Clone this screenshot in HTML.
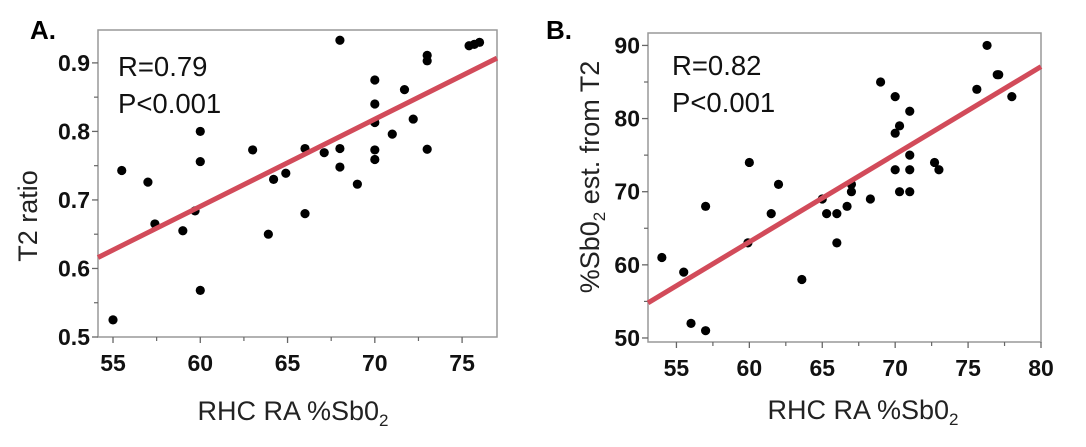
<!DOCTYPE html>
<html><head><meta charset="utf-8"><style>
html,body{margin:0;padding:0;background:#fff;}
svg{display:block;font-family:"Liberation Sans",sans-serif;}
.tk{font-weight:bold;font-size:23px;fill:#111;}
.ti{font-size:27px;fill:#222;}
.st{font-size:27.5px;fill:#111;}
.pl{font-weight:bold;font-size:26px;fill:#000;}
</style></head><body>
<svg id="c" width="1086" height="447" viewBox="0 0 1086 447" xmlns="http://www.w3.org/2000/svg"></svg>
<script>
const aX=[55,55.5,57,57.4,59,59.7,60,60,60,63,63.9,64.2,64.9,66,66,67.1,68,68,68,69,70,70,70,70,70,71,71.7,72.2,73,73,73,75.4,75.7,76];
const aY=[0.525,0.743,0.726,0.665,0.655,0.684,0.80,0.756,0.568,0.773,0.650,0.730,0.739,0.775,0.680,0.769,0.933,0.775,0.748,0.723,0.875,0.840,0.813,0.773,0.759,0.796,0.861,0.818,0.911,0.903,0.774,0.925,0.927,0.930];
const aXTicks=[55,60,65,70,75];
const aYTicks=[0.5,0.6,0.7,0.8,0.9];
const aFit=[[54.14,0.616],[77,0.907]];
const bX=[54,55.5,56,57,57,59.9,60,61.5,62,63.6,65,65.3,66,66,66.7,67,67,68.3,69,70,70,70,70.3,70.3,71,71,71,71,72.7,73,75.6,76.3,77,77.1,78];
const bY=[61,59,52,51,68,63,74,67,71,58,69,67,67,63,68,71,70,69,85,83,78,73,79,70,81,75,73,70,74,73,84,90,86,86,83];
const bXTicks=[55,60,65,70,75,80];
const bYTicks=[50,60,70,80,90];
const bFit=[[53.05,54.8],[80,87.1]];
const NS="http://www.w3.org/2000/svg";
const svg=document.getElementById('c');
function mk(tag,attrs,parent){const e=document.createElementNS(NS,tag);for(const k in attrs)e.setAttribute(k,attrs[k]);(parent||svg).appendChild(e);return e;}
function panel(o){
  const g=mk('g',{});
  
  
  const sx=v=>o.L+(v-o.x0)/(o.x1-o.x0)*(o.R-o.L);
  const sy=v=>o.B-(v-o.y0)/(o.y1-o.y0)*(o.B-o.T);
  const box=mk('rect',{x:o.L,y:o.T,width:o.R-o.L,height:o.B-o.T,fill:'none',stroke:'#999','stroke-width':1.5},g);
  
  
  o.xt.forEach((t,i)=>{
    const x=sx(t);
    mk('line',{x1:x,x2:x,y1:o.B,y2:o.B+6,stroke:'#666','stroke-width':1.3},g);
    const xm=sx(t+o.xs/2);if(xm<=o.R)mk('line',{x1:xm,x2:xm,y1:o.B,y2:o.B+4,stroke:'#666','stroke-width':1.2},g);
    const tx=mk('text',{x:x,y:o.B+34,'text-anchor':'middle',class:'tk'},g);tx.textContent=t;
    
    
  });
  o.yt.forEach((t,i)=>{
    const y=sy(t);
    mk('line',{x1:o.L-6,x2:o.L,y1:y,y2:y,stroke:'#666','stroke-width':1.3},g);
    const ym=sy(t+o.ys/2);if(ym>=o.T)mk('line',{x1:o.L-4,x2:o.L,y1:ym,y2:ym,stroke:'#666','stroke-width':1.2},g);
    const tx=mk('text',{x:o.L-8,y:y+8,'text-anchor':'end',class:'tk'},g);tx.textContent=o.yfmt(t);
    
    
  });
  o.px.forEach((v,i)=>{
    const c=mk('circle',{cx:sx(v),cy:sy(o.py[i]),r:4.6,fill:'#000'},g);
    
    
  });
  const ln=mk('line',{x1:sx(o.fit[0][0]),y1:sy(o.fit[0][1]),x2:sx(o.fit[1][0]),y2:sy(o.fit[1][1]),stroke:'#d24b5a','stroke-width':5},g);
  
  
  return g;
}
panel({name:'panel-a',L:98,R:497,T:30,B:337,x0:54.14,x1:77,y0:0.5,y1:0.948,xt:aXTicks,xs:5,yt:aYTicks,ys:0.1,yfmt:t=>t.toFixed(1),px:aX,py:aY,fit:aFit});
panel({name:'panel-b',L:648,R:1041,T:33,B:342,x0:53.05,x1:80,y0:49.45,y1:91.7,xt:bXTicks,xs:5,yt:bYTicks,ys:10,yfmt:t=>t,px:bX,py:bY,fit:bFit});
</script>
<svg style="position:absolute;left:0;top:0" width="1086" height="447">
<text class="pl" x="30" y="39">A.</text>
<text class="pl" x="546" y="39">B.</text>
<text class="st" x="118" y="76">R=0.79</text>
<text class="st" x="118" y="113">P&lt;0.001</text>
<text class="st" x="672" y="75">R=0.82</text>
<text class="st" x="672" y="112">P&lt;0.001</text>
<text class="ti" x="293" y="420" text-anchor="middle">RHC RA %Sb0<tspan font-size="17" dy="6">2</tspan></text>
<text class="ti" x="863" y="419" text-anchor="middle">RHC RA %Sb0<tspan font-size="17" dy="6">2</tspan></text>
<text class="ti" transform="translate(37,216) rotate(-90)" text-anchor="middle">T2 ratio</text>
<text class="ti" transform="translate(599,177) rotate(-90)" text-anchor="middle">%Sb0<tspan font-size="17" dy="6">2</tspan><tspan dy="-6"> est. from T2</tspan></text>
</svg>
</body></html>
